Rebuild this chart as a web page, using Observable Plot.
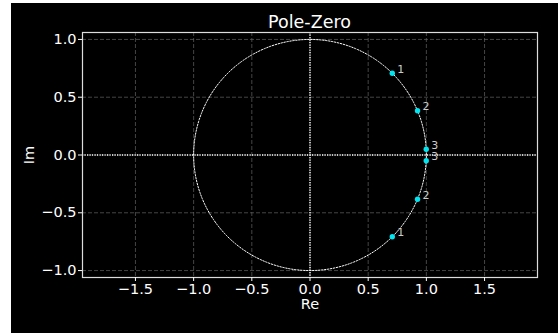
<!DOCTYPE html>
<html>
<head>
<meta charset="utf-8">
<script src="https://cdn.jsdelivr.net/npm/d3@7"></script>
<script src="https://cdn.jsdelivr.net/npm/@observablehq/plot@0.6"></script>
<style>
  html, body { margin: 0; padding: 0; background: #fff; width: 558px; height: 333px; overflow: hidden; }
  #panel { position: absolute; left: 11px; top: 3px; width: 547px; height: 330px; background: #000; font-family: "DejaVu Sans", sans-serif; }
  #title { position: absolute; left: 71px; width: 455px; top: 9px; text-align: center; color: #fff; font-size: 17.5px; line-height: normal; font-family: "DejaVu Sans", sans-serif; }
  #chart { position: absolute; left: 0; top: 0; }
  #chart svg text { font-family: "DejaVu Sans", sans-serif !important; }
  #chart svg g[aria-label="x-axis tick label"] text,
  #chart svg g[aria-label="y-axis tick label"] text { font-size: 14.5px !important; }
</style>
</head>
<body>
<div id="panel">
  <div id="chart"></div>
  <div id="title">Pole-Zero</div>
</div>
<script>
// Pole/zero locations
const labels = ["1", "2", "3", "3", "2", "1"];
const re = [0.707, 0.924, 0.999, 0.999, 0.924, 0.707];
const im = [0.707, 0.383, 0.05, -0.05, -0.383, -0.707];
const xTicks = [-1.5, -1.0, -0.5, 0.0, 0.5, 1.0, 1.5];
const yTicks = [-1.0, -0.5, 0.0, 0.5, 1.0];

const pts = labels.map((l, i) => ({label: l, re: re[i], im: im[i]}));
// unit circle reference
const circle = d3.range(0, 361, 1).map(a => ({re: Math.cos(a * Math.PI / 180), im: Math.sin(a * Math.PI / 180)}));
const fmt = d3.format(".1f");

const chart = Plot.plot({
  width: 547,
  height: 330,
  marginLeft: 71,
  marginRight: 21,
  marginTop: 29,
  marginBottom: 56,
  style: {background: "#000", color: "#fff", fontFamily: "DejaVu Sans, sans-serif", fontSize: "14.5px"},
  x: {domain: [-1.955, 1.955]},
  y: {domain: [-1.06, 1.06]},
  marks: [
    Plot.gridX(xTicks, {stroke: "#666", strokeOpacity: 0.85, strokeDasharray: "4,2", strokeWidth: 0.8}),
    Plot.gridY(yTicks, {stroke: "#666", strokeOpacity: 0.85, strokeDasharray: "4,2", strokeWidth: 0.8}),
    Plot.line(circle, {x: "re", y: "im", stroke: "#fff", strokeWidth: 1, strokeDasharray: "1.5,1.5", curve: "linear"}),
    Plot.ruleX([0], {stroke: "#fff", strokeWidth: 1.4, strokeDasharray: "1.2,1.3"}),
    Plot.ruleY([0], {stroke: "#fff", strokeWidth: 1.4, strokeDasharray: "1.2,1.3"}),
    Plot.dot(pts, {x: "re", y: "im", r: 2.7, fill: "#00e5f0", stroke: "none"}),
    Plot.text(pts, {x: "re", y: "im", text: "label", dx: 5, dy: -4, fill: "#ccc", fontSize: 11, textAnchor: "start"}),
    Plot.frame({stroke: "#ddd", strokeWidth: 1.2}),
    Plot.axisX({ticks: xTicks, tickFormat: fmt, tickSize: 4, tickPadding: 2, fontSize: 14.5, label: null}),
    Plot.axisY({ticks: yTicks, tickFormat: fmt, tickSize: 4, tickPadding: 2, fontSize: 14.5, label: null}),
    Plot.text(["Re"], {text: d => d, frameAnchor: "bottom", dy: 27, lineAnchor: "middle", textAnchor: "middle", fontSize: 14.5, fill: "#fff"}),
    Plot.text(["Im"], {text: d => d, frameAnchor: "left", dx: -53, rotate: -90, lineAnchor: "middle", textAnchor: "middle", fontSize: 14.5, fill: "#fff"})
  ]
});
document.getElementById("chart").appendChild(chart);
</script>
</body>
</html>
